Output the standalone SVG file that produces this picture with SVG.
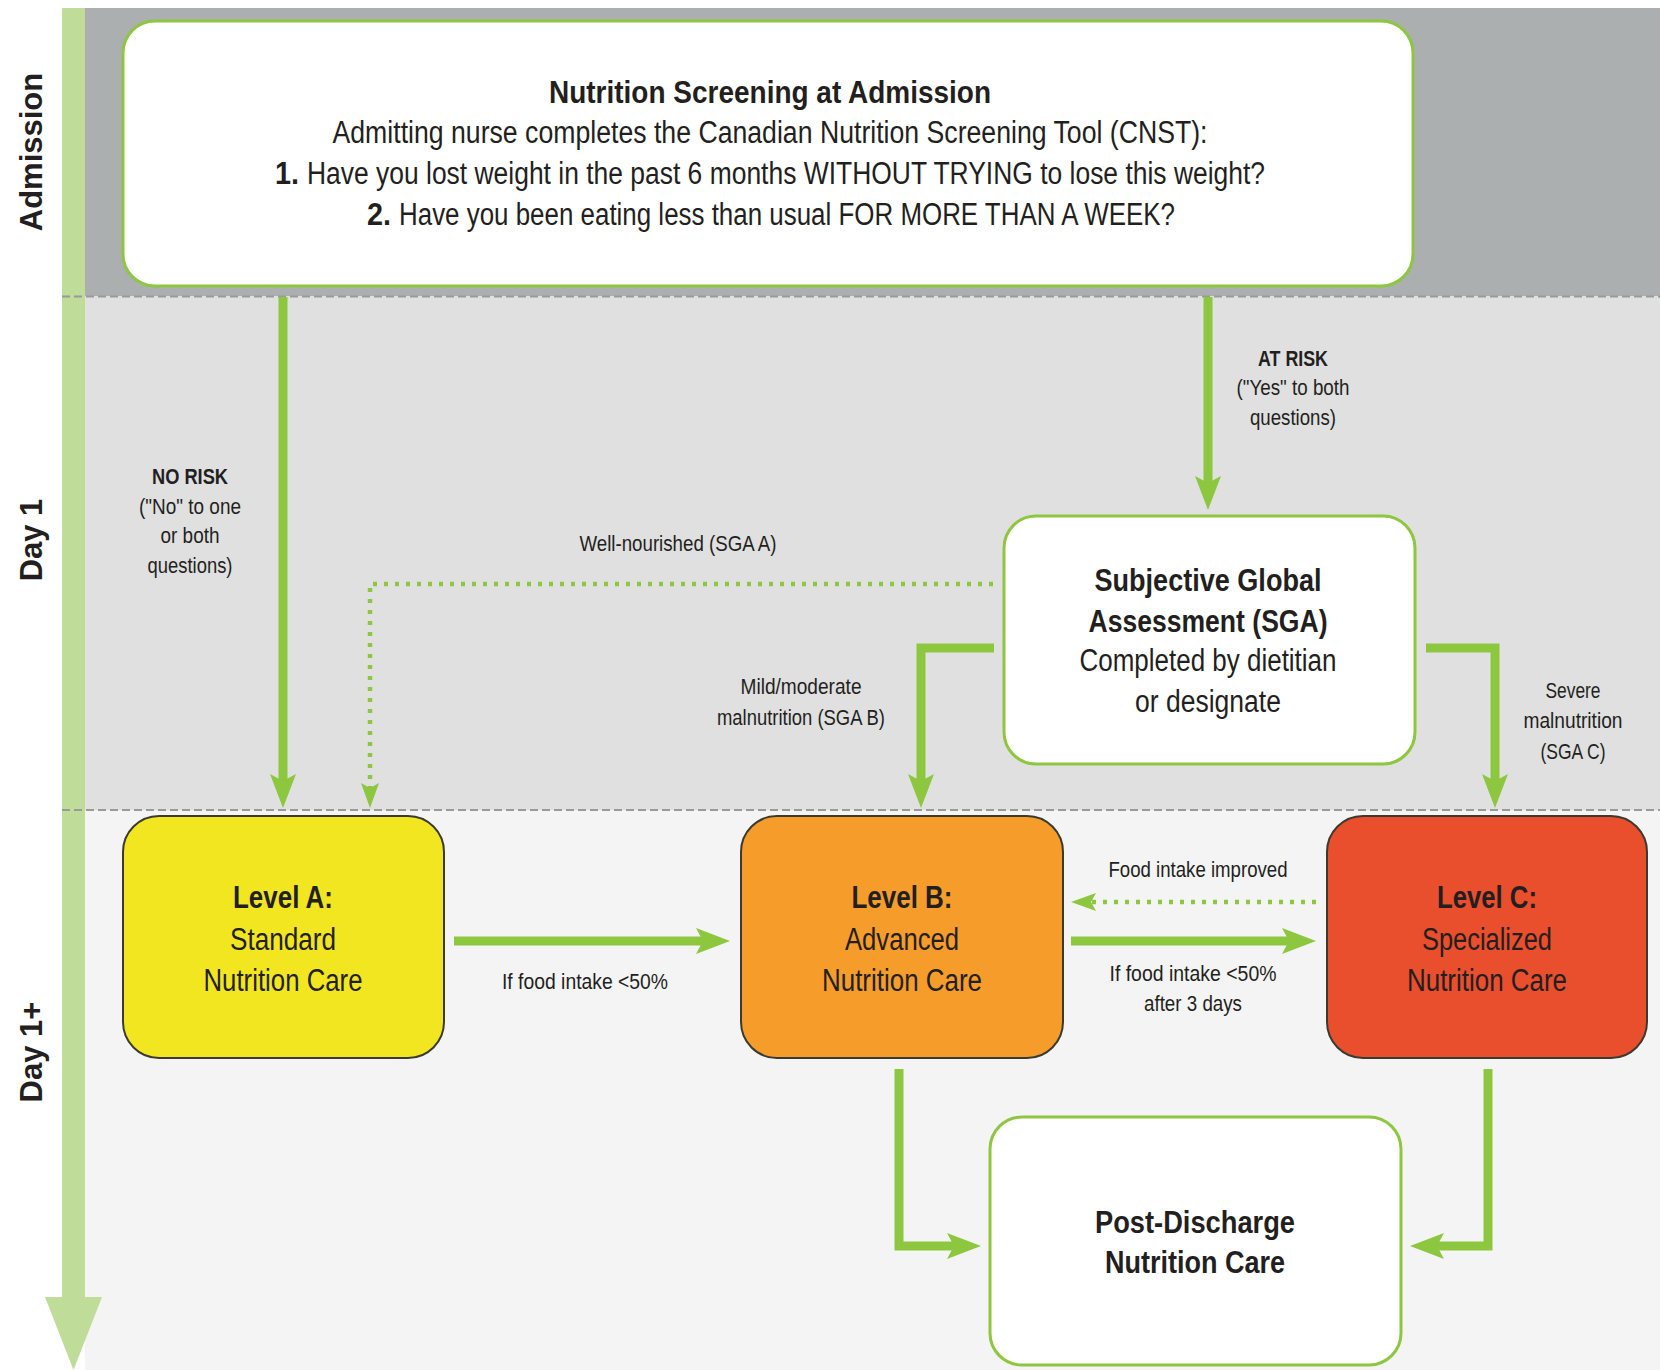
<svg xmlns="http://www.w3.org/2000/svg" width="1660" height="1370" viewBox="0 0 1660 1370">
  <style>
    text { font-family: "Liberation Sans", Arial, Helvetica, sans-serif; fill: #231f20; }
    .lane { font-size: 31px; font-weight: bold; }
    .big { font-size: 31px; text-anchor: middle; }
    .bigl { font-size: 31px; text-anchor: start; }
    .sm { font-size: 22px; text-anchor: middle; }
    .b { font-weight: bold; }
    .band-line { stroke: #9a9a9a; stroke-width: 2; stroke-dasharray: 8 4; fill: none; }
    .gbox { fill: #ffffff; stroke: #8dc63f; stroke-width: 3; }
    .lvl { stroke: #3a3a30; stroke-width: 2; }
    .con { fill: none; stroke: #8dc63f; stroke-width: 9; stroke-linejoin: miter; }
    .dot { fill: none; stroke: #8dc63f; stroke-width: 4.5; stroke-dasharray: 4 7; }
  </style>
  <defs>
    <marker id="ah" viewBox="0 0 34 26" refX="7" refY="13" markerWidth="34" markerHeight="26" markerUnits="userSpaceOnUse" orient="auto">
      <path d="M0,0 L34,13 L0,26 L7,13 Z" fill="#8dc63f"/>
    </marker>
    <marker id="ahs" viewBox="0 0 25 18" refX="5" refY="9" markerWidth="25" markerHeight="18" markerUnits="userSpaceOnUse" orient="auto">
      <path d="M0,0 L25,9 L0,18 L5,9 Z" fill="#8dc63f"/>
    </marker>
  </defs>

  <!-- background bands -->
  <g id="background">
    <rect x="0" y="0" width="1660" height="1370" fill="#ffffff"/>
    <rect x="85" y="8" width="1575" height="288" fill="#acafb0"/>
    <rect x="85" y="296" width="1575" height="514" fill="#e0e0e0"/>
    <rect x="85" y="810" width="1575" height="560" fill="#f4f4f4"/>
    <rect x="62" y="8" width="23" height="1292" fill="#bfdc98"/>
    <polygon points="45,1297 102,1297 73.5,1370" fill="#bfdc98"/>
    <line class="band-line" x1="62" y1="296.5" x2="1660" y2="296.5"/>
    <line class="band-line" x1="62" y1="810" x2="1660" y2="810"/>
    <text class="lane" transform="translate(42,152) rotate(-90)" text-anchor="middle">Admission</text>
    <text class="lane" transform="translate(42,540) rotate(-90)" text-anchor="middle">Day 1</text>
    <text class="lane" transform="translate(42,1052) rotate(-90)" text-anchor="middle">Day 1+</text>
  </g>

  <!-- connectors -->
  <g id="connectors">
    <path class="con" d="M283,297 V781" marker-end="url(#ah)"/>
    <path class="dot" d="M993,584 H370 V788" marker-end="url(#ahs)"/>
    <path class="con" d="M1208,297 V483" marker-end="url(#ah)"/>
    <path class="con" d="M994,648 H921 V781" marker-end="url(#ah)"/>
    <path class="con" d="M1426,648 H1495 V781" marker-end="url(#ah)"/>
    <path class="con" d="M454,941 H703" marker-end="url(#ah)"/>
    <path class="con" d="M1071,941 H1289" marker-end="url(#ah)"/>
    <path class="dot" d="M1316,902 H1091" marker-end="url(#ahs)"/>
    <path class="con" d="M899,1069 V1246 H954" marker-end="url(#ah)"/>
    <path class="con" d="M1488,1069 V1246 H1437" marker-end="url(#ah)"/>

    <text class="sm b" x="190" y="484" textLength="76" lengthAdjust="spacingAndGlyphs">NO RISK</text>
    <text class="sm" x="190" y="514" textLength="102" lengthAdjust="spacingAndGlyphs">("No" to one</text>
    <text class="sm" x="190" y="543" textLength="59" lengthAdjust="spacingAndGlyphs">or both</text>
    <text class="sm" x="190" y="573" textLength="85" lengthAdjust="spacingAndGlyphs">questions)</text>

    <text class="sm b" x="1293" y="366" textLength="70" lengthAdjust="spacingAndGlyphs">AT RISK</text>
    <text class="sm" x="1293" y="395" textLength="113" lengthAdjust="spacingAndGlyphs">("Yes" to both</text>
    <text class="sm" x="1293" y="425" textLength="86" lengthAdjust="spacingAndGlyphs">questions)</text>

    <text class="sm" x="678" y="551" textLength="197" lengthAdjust="spacingAndGlyphs">Well-nourished (SGA A)</text>

    <text class="sm" x="801" y="694" textLength="121" lengthAdjust="spacingAndGlyphs">Mild/moderate</text>
    <text class="sm" x="801" y="725" textLength="168" lengthAdjust="spacingAndGlyphs">malnutrition (SGA B)</text>

    <text class="sm" x="1573" y="698" textLength="55" lengthAdjust="spacingAndGlyphs">Severe</text>
    <text class="sm" x="1573" y="728" textLength="99" lengthAdjust="spacingAndGlyphs">malnutrition</text>
    <text class="sm" x="1573" y="759" textLength="65" lengthAdjust="spacingAndGlyphs">(SGA C)</text>

    <text class="sm" x="585" y="989" textLength="166" lengthAdjust="spacingAndGlyphs">If food intake &lt;50%</text>

    <text class="sm" x="1198" y="877" textLength="179" lengthAdjust="spacingAndGlyphs">Food intake improved</text>
    <text class="sm" x="1193" y="981" textLength="167" lengthAdjust="spacingAndGlyphs">If food intake &lt;50%</text>
    <text class="sm" x="1193" y="1011" textLength="98" lengthAdjust="spacingAndGlyphs">after 3 days</text>
  </g>

  <!-- nodes -->
  <g id="screening">
    <rect class="gbox" x="123" y="21" width="1290" height="265" rx="32" ry="32"/>
    <text class="big b" x="770" y="103" textLength="442" lengthAdjust="spacingAndGlyphs">Nutrition Screening at Admission</text>
    <text class="big" x="770" y="143" textLength="875" lengthAdjust="spacingAndGlyphs">Admitting nurse completes the Canadian Nutrition Screening Tool (CNST):</text>
    <text class="bigl b" x="275" y="184" textLength="24" lengthAdjust="spacingAndGlyphs">1.</text>
    <text class="bigl" x="307" y="184" textLength="958" lengthAdjust="spacingAndGlyphs">Have you lost weight in the past 6 months WITHOUT TRYING to lose this weight?</text>
    <text class="bigl b" x="367" y="225" textLength="24" lengthAdjust="spacingAndGlyphs">2.</text>
    <text class="bigl" x="399" y="225" textLength="776" lengthAdjust="spacingAndGlyphs">Have you been eating less than usual FOR MORE THAN A WEEK?</text>
  </g>

  <g id="sga">
    <rect class="gbox" x="1004" y="516" width="411" height="248" rx="32" ry="32"/>
    <text class="big b" x="1208" y="591" textLength="227" lengthAdjust="spacingAndGlyphs">Subjective Global</text>
    <text class="big b" x="1208" y="632" textLength="239" lengthAdjust="spacingAndGlyphs">Assessment (SGA)</text>
    <text class="big" x="1208" y="671" textLength="257" lengthAdjust="spacingAndGlyphs">Completed by dietitian</text>
    <text class="big" x="1208" y="712" textLength="146" lengthAdjust="spacingAndGlyphs">or designate</text>
  </g>

  <g id="level-a">
    <rect class="lvl" x="123" y="816" width="321" height="242" rx="36" ry="36" fill="#f2e621"/>
    <text class="big b" x="283" y="908" textLength="100" lengthAdjust="spacingAndGlyphs">Level A:</text>
    <text class="big" x="283" y="950" textLength="106" lengthAdjust="spacingAndGlyphs">Standard</text>
    <text class="big" x="283" y="991" textLength="159" lengthAdjust="spacingAndGlyphs">Nutrition Care</text>
  </g>

  <g id="level-b">
    <rect class="lvl" x="741" y="816" width="322" height="242" rx="36" ry="36" fill="#f59c2a"/>
    <text class="big b" x="902" y="908" textLength="101" lengthAdjust="spacingAndGlyphs">Level B:</text>
    <text class="big" x="902" y="950" textLength="114" lengthAdjust="spacingAndGlyphs">Advanced</text>
    <text class="big" x="902" y="991" textLength="160" lengthAdjust="spacingAndGlyphs">Nutrition Care</text>
  </g>

  <g id="level-c">
    <rect class="lvl" x="1327" y="816" width="320" height="242" rx="36" ry="36" fill="#e94e2d"/>
    <text class="big b" x="1487" y="908" textLength="100" lengthAdjust="spacingAndGlyphs">Level C:</text>
    <text class="big" x="1487" y="950" textLength="130" lengthAdjust="spacingAndGlyphs">Specialized</text>
    <text class="big" x="1487" y="991" textLength="160" lengthAdjust="spacingAndGlyphs">Nutrition Care</text>
  </g>

  <g id="post-discharge">
    <rect class="gbox" x="990" y="1117" width="411" height="248" rx="32" ry="32"/>
    <text class="big b" x="1195" y="1233" textLength="200" lengthAdjust="spacingAndGlyphs">Post-Discharge</text>
    <text class="big b" x="1195" y="1273" textLength="180" lengthAdjust="spacingAndGlyphs">Nutrition Care</text>
  </g>
</svg>
